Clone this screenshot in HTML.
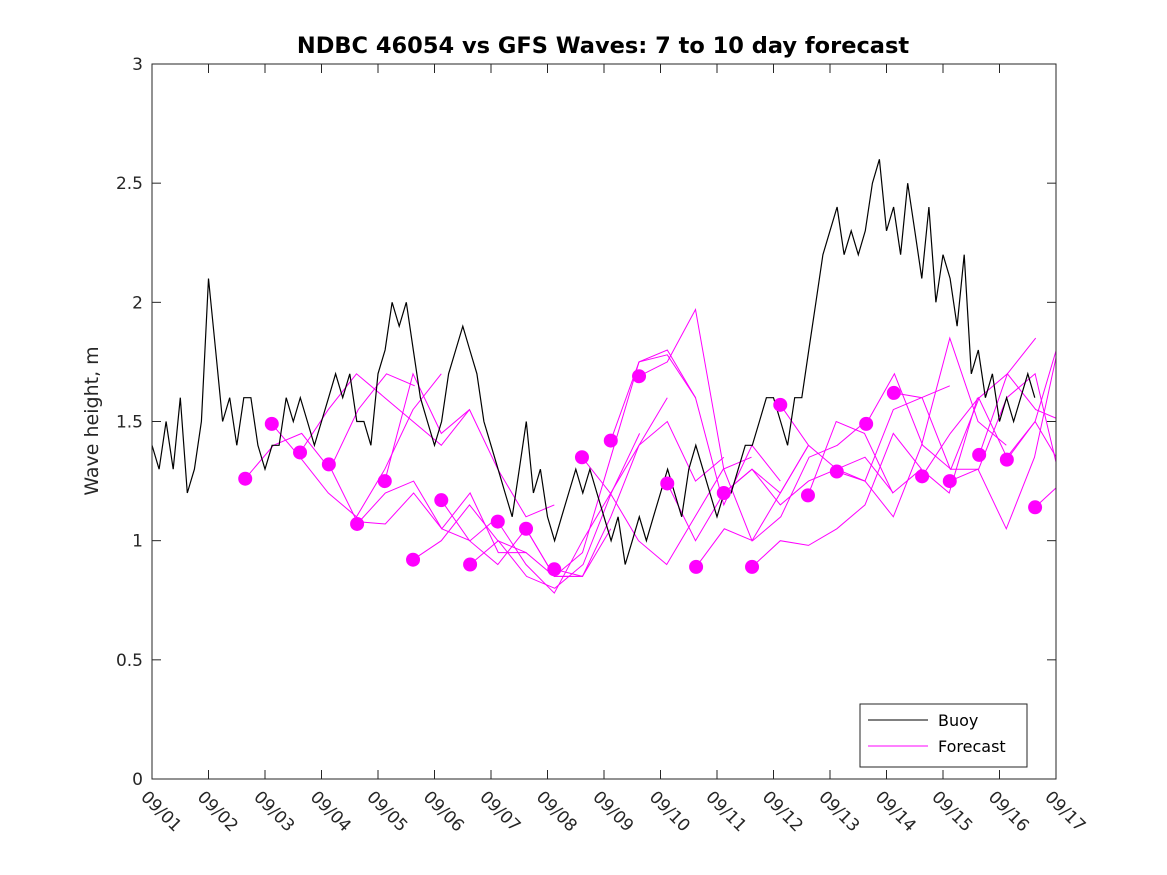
<!DOCTYPE html>
<html><head><meta charset="utf-8"><style>
body{margin:0;background:#fff;}
svg{display:block;font-family:"DejaVu Sans","Liberation Sans",sans-serif;}
</style></head><body>
<svg id="chart" width="1167" height="875">
<rect width="1167" height="875" fill="#fff"/>
<text x="603" y="53" text-anchor="middle" font-size="22.5" font-weight="bold" fill="#000">NDBC 46054 vs GFS Waves: 7 to 10 day forecast</text>
<g id="clipdef"><clipPath id="plotclip"><rect x="152" y="64" width="904" height="715"/></clipPath></g>
<g id="series" clip-path="url(#plotclip)"></g>
<g id="axes"></g>
<text transform="translate(98,421) rotate(-90)" text-anchor="middle" font-size="19" fill="#262626">Wave height, m</text>
<g>
<rect x="860" y="704" width="167" height="63" fill="#fff" stroke="#262626" stroke-width="1"/>
<line x1="868" y1="720" x2="928" y2="720" stroke="#000" stroke-width="1"/>
<text x="938" y="726" font-size="16" fill="#000">Buoy</text>
<line x1="868" y1="746" x2="928" y2="746" stroke="#f0f" stroke-width="1"/>
<text x="938" y="752" font-size="16" fill="#000">Forecast</text>
</g>
</svg>
<script>
const xTickLabels=["09/01","09/02","09/03","09/04","09/05","09/06","09/07","09/08","09/09","09/10","09/11","09/12","09/13","09/14","09/15","09/16","09/17"];
const yTicks=[0,0.5,1,1.5,2,2.5,3];
const buoyStep=0.125;
const buoyValues=[1.4,1.3,1.5,1.3,1.6,1.2,1.3,1.5,2.1,1.8,1.5,1.6,1.4,1.6,1.6,1.4,1.3,1.4,1.4,1.6,1.5,1.6,1.5,1.4,1.5,1.6,1.7,1.6,1.7,1.5,1.5,1.4,1.7,1.8,2.0,1.9,2.0,1.8,1.6,1.5,1.4,1.5,1.7,1.8,1.9,1.8,1.7,1.5,1.4,1.3,1.2,1.1,1.3,1.5,1.2,1.3,1.1,1.0,1.1,1.2,1.3,1.2,1.3,1.2,1.1,1.0,1.1,0.9,1.0,1.1,1.0,1.1,1.2,1.3,1.2,1.1,1.3,1.4,1.3,1.2,1.1,1.2,1.2,1.3,1.4,1.4,1.5,1.6,1.6,1.5,1.4,1.6,1.6,1.8,2.0,2.2,2.3,2.4,2.2,2.3,2.2,2.3,2.5,2.6,2.3,2.4,2.2,2.5,2.3,2.1,2.4,2.0,2.2,2.1,1.9,2.2,1.7,1.8,1.6,1.7,1.5,1.6,1.5,1.6,1.7,1.6];
const fcStep=0.5;
const fcStarts=[1.65,2.12,2.62,3.13,3.63,4.12,4.62,5.12,5.63,6.12,6.62,7.12,7.61,8.12,8.62,9.12,9.63,10.12,10.62,11.12,11.61,12.12,12.64,13.13,13.63,14.12,14.64,15.13,15.63];
const fcValues=[
[1.26,1.40,1.45,1.30,1.55,1.70,1.65],
[1.49,1.35,1.20,1.10,1.30,1.55,1.70],
[1.37,1.55,1.70,1.60,1.50,1.40,1.55],
[1.32,1.08,1.07,1.20,1.05,1.00,1.10],
[1.07,1.20,1.25,1.05,1.20,0.95,0.95],
[1.25,1.70,1.45,1.55,1.30,1.10,1.15],
[0.92,1.00,1.15,1.00,0.95,0.85,0.85],
[1.17,1.00,0.90,1.05,0.85,0.85,1.05],
[0.90,1.00,0.85,0.80,0.90,1.20,1.45],
[1.08,0.90,0.78,1.00,1.20,1.40,1.60],
[1.05,0.85,0.95,1.35,1.75,1.78,1.60],
[0.88,0.85,1.10,1.40,1.50,1.25,1.35],
[1.35,1.20,1.00,0.90,1.10,1.30,1.35],
[1.42,1.75,1.80,1.60,1.15,1.40,1.25],
[1.69,1.75,1.97,1.30,1.00,1.20,1.40],
[1.24,1.00,1.20,1.30,1.20,1.40],
[0.89,1.05,1.00,1.10,1.35,1.40,1.50],
[1.20,1.30,1.15,1.25,1.30,1.35,1.20],
[0.89,1.00,0.98,1.05,1.15,1.45,1.30],
[1.57,1.40,1.30,1.25,1.55,1.60,1.65],
[1.19,1.50,1.45,1.20,1.30,1.20,1.60],
[1.29,1.25,1.10,1.40,1.85,1.50,1.40],
[1.49,1.70,1.40,1.30,1.60,1.70,1.85],
[1.62,1.60,1.30,1.30,1.60,1.70,1.20],
[1.27,1.45,1.60,1.35,1.50,1.90,1.15],
[1.25,1.30,1.05,1.35,1.90,1.30,1.13],
[1.36,1.70,1.55,1.50,1.40],
[1.34,1.50,1.30,1.15,1.25],
[1.14,1.25,1.40]];
const NS="http://www.w3.org/2000/svg";
const X0=152,X1=1056,Y0=779,Y1=64,XMAX=16,YMAX=3;
function xs(d){return X0+(X1-X0)*d/XMAX;}
function ys(v){return Y0-(Y0-Y1)*v/YMAX;}
function mk(t,a,p){const e=document.createElementNS(NS,t);for(const k in a)e.setAttribute(k,a[k]);p.appendChild(e);return e;}
const ser=document.getElementById('series'),ax=document.getElementById('axes');
fcStarts.forEach((s,i)=>{
 const pts=fcValues[i].map((v,j)=>xs(s+j*fcStep).toFixed(1)+","+ys(v).toFixed(1)).join(" ");
 const l=mk('polyline',{points:pts,fill:'none',stroke:'#f0f','stroke-width':1},ser);
 
 
});
const bp=buoyValues.map((v,i)=>xs(i*buoyStep).toFixed(1)+","+ys(v).toFixed(1)).join(" ");
const bl=mk('polyline',{points:bp,fill:'none',stroke:'#000','stroke-width':1.2},ser);


fcStarts.forEach((s,i)=>{
 const c=mk('circle',{cx:xs(s),cy:ys(fcValues[i][0]),r:7,fill:'#f0f'},ser);
 
 
});
const fr=mk('rect',{x:X0,y:Y1,width:X1-X0,height:Y0-Y1,fill:'none',stroke:'#262626','stroke-width':1},ax);


yTicks.forEach(v=>{
 const y=ys(v);
 mk('line',{x1:X0,y1:y,x2:X0+9,y2:y,stroke:'#262626'},ax);
 mk('line',{x1:X1,y1:y,x2:X1-9,y2:y,stroke:'#262626'},ax);
 const t=mk('text',{x:X0-9,y:y+6,'text-anchor':'end','font-size':17,fill:'#262626'},ax);
 t.textContent=String(v);
 
 
});
xTickLabels.forEach((lab,i)=>{
 const x=xs(i);
 mk('line',{x1:x,y1:Y0,x2:x,y2:Y0-9,stroke:'#262626'},ax);
 mk('line',{x1:x,y1:Y1,x2:x,y2:Y1+9,stroke:'#262626'},ax);
 const t=mk('text',{transform:`translate(${x-12},${Y0+19}) rotate(45)`,'font-size':17,fill:'#262626'},ax);
 t.textContent=lab;
 
 
});
</script>
</body></html>
